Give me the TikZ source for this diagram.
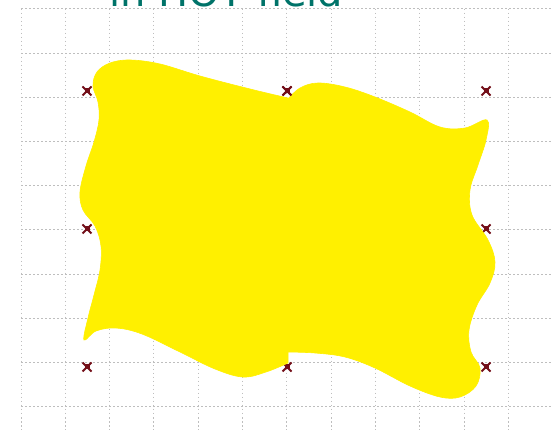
\documentclass[tikz,border=0pt]{standalone}
\usepackage{fontspec}
\newfontfamily\titlefont{DejaVu Sans}
\definecolor{gridc}{RGB}{190,190,190}
\definecolor{blob}{RGB}{255,240,0}
\definecolor{mk}{RGB}{115,15,25}
\definecolor{titlec}{RGB}{0,115,105}
\begin{document}
\begin{tikzpicture}[x=1pt,y=-1pt,
  gridline/.style={gridc,line width=1pt,dash pattern=on 1.5pt off 2.5pt},
  marker/.style={fill=mk,minimum size=5pt,inner sep=0pt,draw=none},
  markx/.style={mk,line width=1.8pt},
  blobfill/.style={fill=blob,draw=blob,line width=0.6pt}]
\useasboundingbox (0,0) rectangle (560,430);
\fill[white] (0,0) rectangle (560,430);
% grid
\foreach \i in {0,...,11} \draw[gridline] ({21+44.3*\i},9) -- ({21+44.3*\i},430);
\foreach \j in {0,...,9} \draw[gridline] (21,{9+44.2*\j}) -- (551,{9+44.2*\j});
% title (cut off at the top edge as in the reference)
\node[anchor=base west,inner sep=0pt,font=\titlefont\fontsize{40}{40}\selectfont,text=titlec] (title) at (109,7) {in HOT field};
% markers
\foreach \n/\x/\y in {m1/87/91,m2/287/91,m3/486/91,m4/87/229,m5/486/229,m6/87/367,m7/287/367,m8/486/367}{
  \node[marker] (\n) at (\x,\y) {};
  \draw[markx] (\n.center) ++(-4.5,-4.5) -- ++(9,9);
  \draw[markx] (\n.center) ++(-4.5,4.5) -- ++(9,-9);
}
% left blob piece
\path[blobfill] plot[smooth,tension=0.6] coordinates {(288,98) (250,89) (200,76) (160,64) (130,60) (110,63) (97,72) (93,86) (98,102) (99,120) (94,142) (86,166) (80,192) (83,210) (95,226) (101,246) (100,270) (94,295) (88,318) (84,340) (96,331) (116,328) (142,334) (180,352) (215,369) (243,377) (266,372) (288,363)} -- cycle;
% right blob piece
\path[blobfill] plot[smooth,tension=0.6] coordinates {(287,100) (300,88) (318,83) (345,87) (375,97) (410,112) (440,127) (465,128) (487,120) (486,140) (478,165) (470,190) (472,215) (488,240) (495,262) (490,283) (477,305) (469,330) (471,352) (480,368) (476,386) (460,397) (440,397) (410,386) (375,368) (345,357) (315,353) (287,352)} -- cycle;
% marker on top at the seam
\draw[markx] (m2.center) ++(-4.5,-4.5) -- ++(9,9);
\draw[markx] (m2.center) ++(-4.5,4.5) -- ++(9,-9);
\fill[mk] (m2.center) ++(-2.5,-2.5) rectangle ++(5,5);
\end{tikzpicture}
\end{document}
